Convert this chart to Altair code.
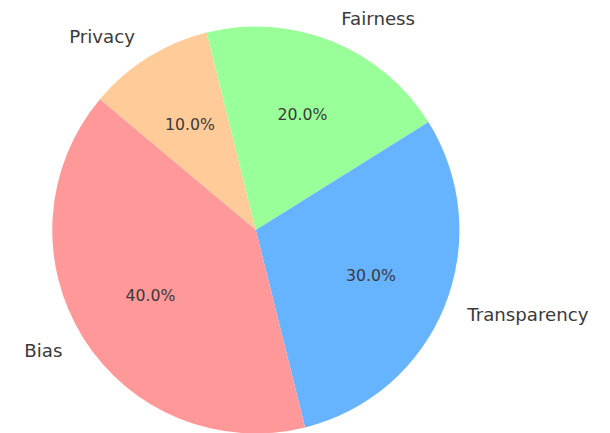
import math
import altair as alt
import pandas as pd

# Data (clockwise order from the top as drawn)
categories = ["Privacy", "Fairness", "Transparency", "Bias"]
values = [10, 20, 30, 40]
colors = ["#ffcc99", "#99ff99", "#66b3ff", "#ff9999"]
label_side = ["right", "left", "left", "right"]

df = pd.DataFrame({
    "category": categories,
    "value": values,
    "idx": list(range(len(categories))),
    "pct": [f"{v / sum(values) * 100:.1f}%" for v in values],
    "side": label_side,
})

start = math.radians(310)
theta_scale = alt.Scale(range=[start, start + 2 * math.pi])
R = 207

base = alt.Chart(df).encode(
    theta=alt.Theta("value:Q", stack=True, scale=theta_scale),
    order=alt.Order("idx:Q"),
)

pie = base.mark_arc(outerRadius=R, strokeWidth=0).encode(
    color=alt.Color("category:N",
                    scale=alt.Scale(domain=categories, range=colors),
                    legend=None)
)

pct = base.mark_text(radius=R * 0.61, font="DejaVu Sans", fontSize=16,
                     color="#3a3a3a", baseline="middle").encode(text="pct:N")

lab_left = base.mark_text(radius=R * 1.12, font="DejaVu Sans", fontSize=18.5,
                          color="#3a3a3a", align="left", baseline="middle").encode(
    text="category:N",
    opacity=alt.condition(alt.datum.side == "left", alt.value(1), alt.value(0)),
)
lab_right = base.mark_text(radius=R * 1.12, font="DejaVu Sans", fontSize=18.5,
                           color="#3a3a3a", align="right", baseline="middle").encode(
    text="category:N",
    opacity=alt.condition(alt.datum.side == "right", alt.value(1), alt.value(0)),
)

chart = alt.layer(pie, pct, lab_left, lab_right).properties(
    width=504,
    height=444,
    autosize=alt.AutoSizeParams(type="none"),
    padding={"left": 0, "top": 0, "right": 100, "bottom": 0},
).configure_view(stroke=None)

chart.save("out.html", embed_options={"renderer": "svg", "actions": False})
